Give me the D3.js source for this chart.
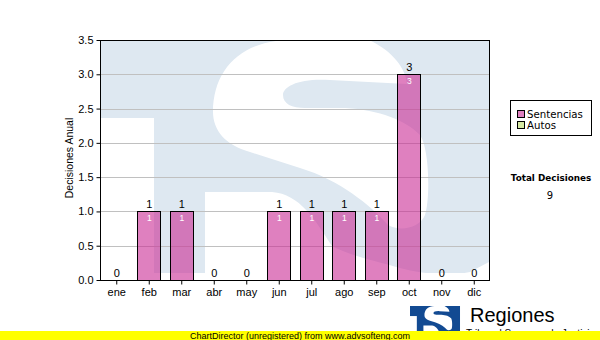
<!DOCTYPE html>
<html><head><meta charset="utf-8">
<script src="https://cdn.jsdelivr.net/npm/d3@7"></script>
<style>html,body{margin:0;padding:0;background:#fff;}svg{display:block;}</style>
</head><body>
<script>
// ---- data ----
const months = ["ene","feb","mar","abr","may","jun","jul","ago","sep","oct","nov","dic"];
const sentencias = [0,1,1,0,0,1,1,1,1,3,0,0];
const autos = [0,0,0,0,0,0,0,0,0,0,0,0];
const yTicks = [0,0.5,1,1.5,2,2.5,3,3.5];
const seriesNames = ["Sentencias","Autos"];
const totalLabel = "Total Decisiones";
const totalValue = 9;
const yTitle = "Decisiones Anual";

const W = 600, H = 340;
const L = 100, R = 490, T = 40, B = 280;

const svg = d3.select("body").append("svg").attr("width", W).attr("height", H);

const x = d3.scaleBand().domain(months).range([L, R]).paddingInner(0.292).paddingOuter(0.146);
const y = d3.scaleLinear().domain([0, 3.5]).range([B, T]);

// ---- watermark logo shapes (local coordinates 388x233) ----
function drawLogo(g, blue) {
  g.append("rect").attr("x",0).attr("y",0).attr("width",388).attr("height",233).attr("fill",blue);
  g.append("rect").attr("x",0).attr("y",78).attr("width",53).attr("height",170).attr("fill","#fff");
  g.append("path").attr("fill","#fff").attr("d",
    "M112,72 C112,28 142,0 190,0 L268,0 C290,10 305,28 306,44 L229,40 C199,38 182,46 182,55 C182,64 191,68 204,68 L244,68 " +
    "C279,70 304,80 319,95 C329,110 329,160 324,175 C319,188 299,192 287,185 C269,165 239,140 199,128 " +
    "L149,112 C124,105 112,90 112,72 Z");
  g.append("path").attr("fill","#fff").attr("d",
    "M104,152 H171 C199,154 214,180 231,206 C249,216 279,222 299,228 C319,234 349,236 369,232 L388,222 V250 H104 Z");
}

const defs = svg.append("defs");
defs.append("clipPath").attr("id","plotClip").append("rect")
  .attr("x", L+1).attr("y", T+1).attr("width", R-L-2).attr("height", B-T-2);

const wm = svg.append("g").attr("clip-path","url(#plotClip)")
  .append("g").attr("transform", `translate(${L+1},${T})`);
drawLogo(wm, "#dee8f1");

// ---- gridlines ----
svg.append("g").selectAll("line").data(yTicks.filter(d => d > 0 && d < 3.5)).join("line")
  .attr("x1", L).attr("x2", R)
  .attr("y1", d => Math.round(y(d)) + 0.5).attr("y2", d => Math.round(y(d)) + 0.5)
  .attr("stroke", "#c0c0c0").attr("stroke-width", 1);

// ---- bars ----
const barFill = "rgba(202,43,148,0.6)";
const bars = svg.append("g");
bars.selectAll("rect.s").data(months.map((m,i)=>({m, v: sentencias[i]})).filter(d => d.v > 0)).join("rect")
  .attr("class","s")
  .attr("x", d => Math.round(x(d.m)) + 0.5)
  .attr("y", d => Math.round(y(d.v)) + 0.5)
  .attr("width", Math.round(x.bandwidth()))
  .attr("height", d => Math.round(y(0)) - Math.round(y(d.v)))
  .attr("fill", barFill).attr("stroke", "#000").attr("stroke-width", 1);
bars.selectAll("rect.a").data(months.map((m,i)=>({m, v: autos[i], base: sentencias[i]})).filter(d => d.v > 0)).join("rect")
  .attr("class","a")
  .attr("x", d => Math.round(x(d.m)) + 0.5)
  .attr("y", d => Math.round(y(d.v + d.base)) + 0.5)
  .attr("width", Math.round(x.bandwidth()))
  .attr("height", d => Math.round(y(d.base)) - Math.round(y(d.v + d.base)))
  .attr("fill", "#d6e9a3").attr("stroke", "#000");

// inner labels
svg.append("g").selectAll("text").data(months.map((m,i)=>({m, v: sentencias[i]})).filter(d => d.v > 0)).join("text")
  .attr("x", d => x(d.m) + x.bandwidth()/2 + 0.5)
  .attr("y", d => y(d.v) + 10)
  .attr("text-anchor","middle").attr("fill","#fff")
  .attr("font-family","Liberation Sans, Arial, sans-serif").attr("font-size", 8.5)
  .text(d => d.v);

// top labels (totals)
svg.append("g").selectAll("text").data(months.map((m,i)=>({m, v: sentencias[i] + autos[i]}))).join("text")
  .attr("x", d => x(d.m) + x.bandwidth()/2 + 0.5)
  .attr("y", d => y(d.v) - 3)
  .attr("text-anchor","middle").attr("fill","#000")
  .attr("font-family","Liberation Sans, Arial, sans-serif").attr("font-size", 11)
  .text(d => d.v);

// ---- axes ----
const yAxis = d3.axisLeft(y).tickValues(yTicks).tickSize(4).tickPadding(3).tickFormat(d3.format(".1f"));
const gy = svg.append("g").attr("transform", `translate(${L+0.5},0)`).call(yAxis);
gy.select(".domain").remove();
gy.selectAll(".tick line").attr("stroke","#000");
gy.selectAll(".tick text").attr("font-family","Liberation Sans, Arial, sans-serif").attr("font-size",11).attr("fill","#000");

const xAxis = d3.axisBottom(x).tickSize(4).tickPadding(4);
const gx = svg.append("g").attr("transform", `translate(0.5,${B+0.5})`).call(xAxis);
gx.select(".domain").remove();
gx.selectAll(".tick line").attr("stroke","#000");
gx.selectAll(".tick text").attr("font-family","Liberation Sans, Arial, sans-serif").attr("font-size",11).attr("fill","#000");

// plot border
svg.append("rect").attr("x", L+0.5).attr("y", T+0.5).attr("width", R-L-1).attr("height", B-T)
  .attr("fill","none").attr("stroke","#000").attr("stroke-width",1);

// y title
svg.append("text").attr("transform", `translate(73,158) rotate(-90)`)
  .attr("text-anchor","middle").attr("font-family","Liberation Sans, Arial, sans-serif").attr("font-size",10.5)
  .attr("fill","#000").text(yTitle);

// ---- legend ----
const lg = svg.append("g");
lg.append("rect").attr("x",510.5).attr("y",100.5).attr("width",81).attr("height",35)
  .attr("fill","#fff").attr("stroke","#000");
const legColors = ["#df80bf","#d6e9a3"];
seriesNames.forEach((n,i) => {
  lg.append("rect").attr("x",517.5).attr("y",110.5 + i*11).attr("width",7).attr("height",7)
    .attr("fill",legColors[i]).attr("stroke","#000");
  lg.append("text").attr("x",527).attr("y",117.5 + i*11)
    .attr("font-family","DejaVu Sans, Verdana, sans-serif").attr("font-size",10.2).attr("fill","#000").text(n);
});

svg.append("text").attr("x",551).attr("y",181).attr("text-anchor","middle")
  .attr("font-family","DejaVu Sans, Verdana, sans-serif").attr("font-weight","bold").attr("font-size",8.8)
  .attr("fill","#000").text(totalLabel);
svg.append("text").attr("x",550).attr("y",199).attr("text-anchor","middle")
  .attr("font-family","DejaVu Sans, Verdana, sans-serif").attr("font-size",10)
  .attr("fill","#000").text(totalValue);

// ---- bottom logo ----
const logo = svg.append("g").attr("transform","translate(410,306) scale(0.1289)");
drawLogo(logo, "#124a92");
svg.append("text").attr("x",470).attr("y",322).attr("font-family","Liberation Sans, Arial, sans-serif")
  .attr("font-size",20).attr("fill","#000").text("Regiones");
svg.append("text").attr("x",466).attr("y",336.5).attr("font-family","Liberation Sans, Arial, sans-serif")
  .attr("font-size",10).attr("fill","#000").text("Tribunal Supremo de Justicia");

// ---- footer ----
svg.append("rect").attr("x",0).attr("y",331).attr("width",W).attr("height",9).attr("fill","#ffff00");
svg.append("text").attr("x",300).attr("y",338.5).attr("text-anchor","middle")
  .attr("font-family","Liberation Sans, Arial, sans-serif").attr("font-size",9).attr("fill","#000")
  .text("ChartDirector (unregistered) from www.advsofteng.com");
</script>
</body></html>
